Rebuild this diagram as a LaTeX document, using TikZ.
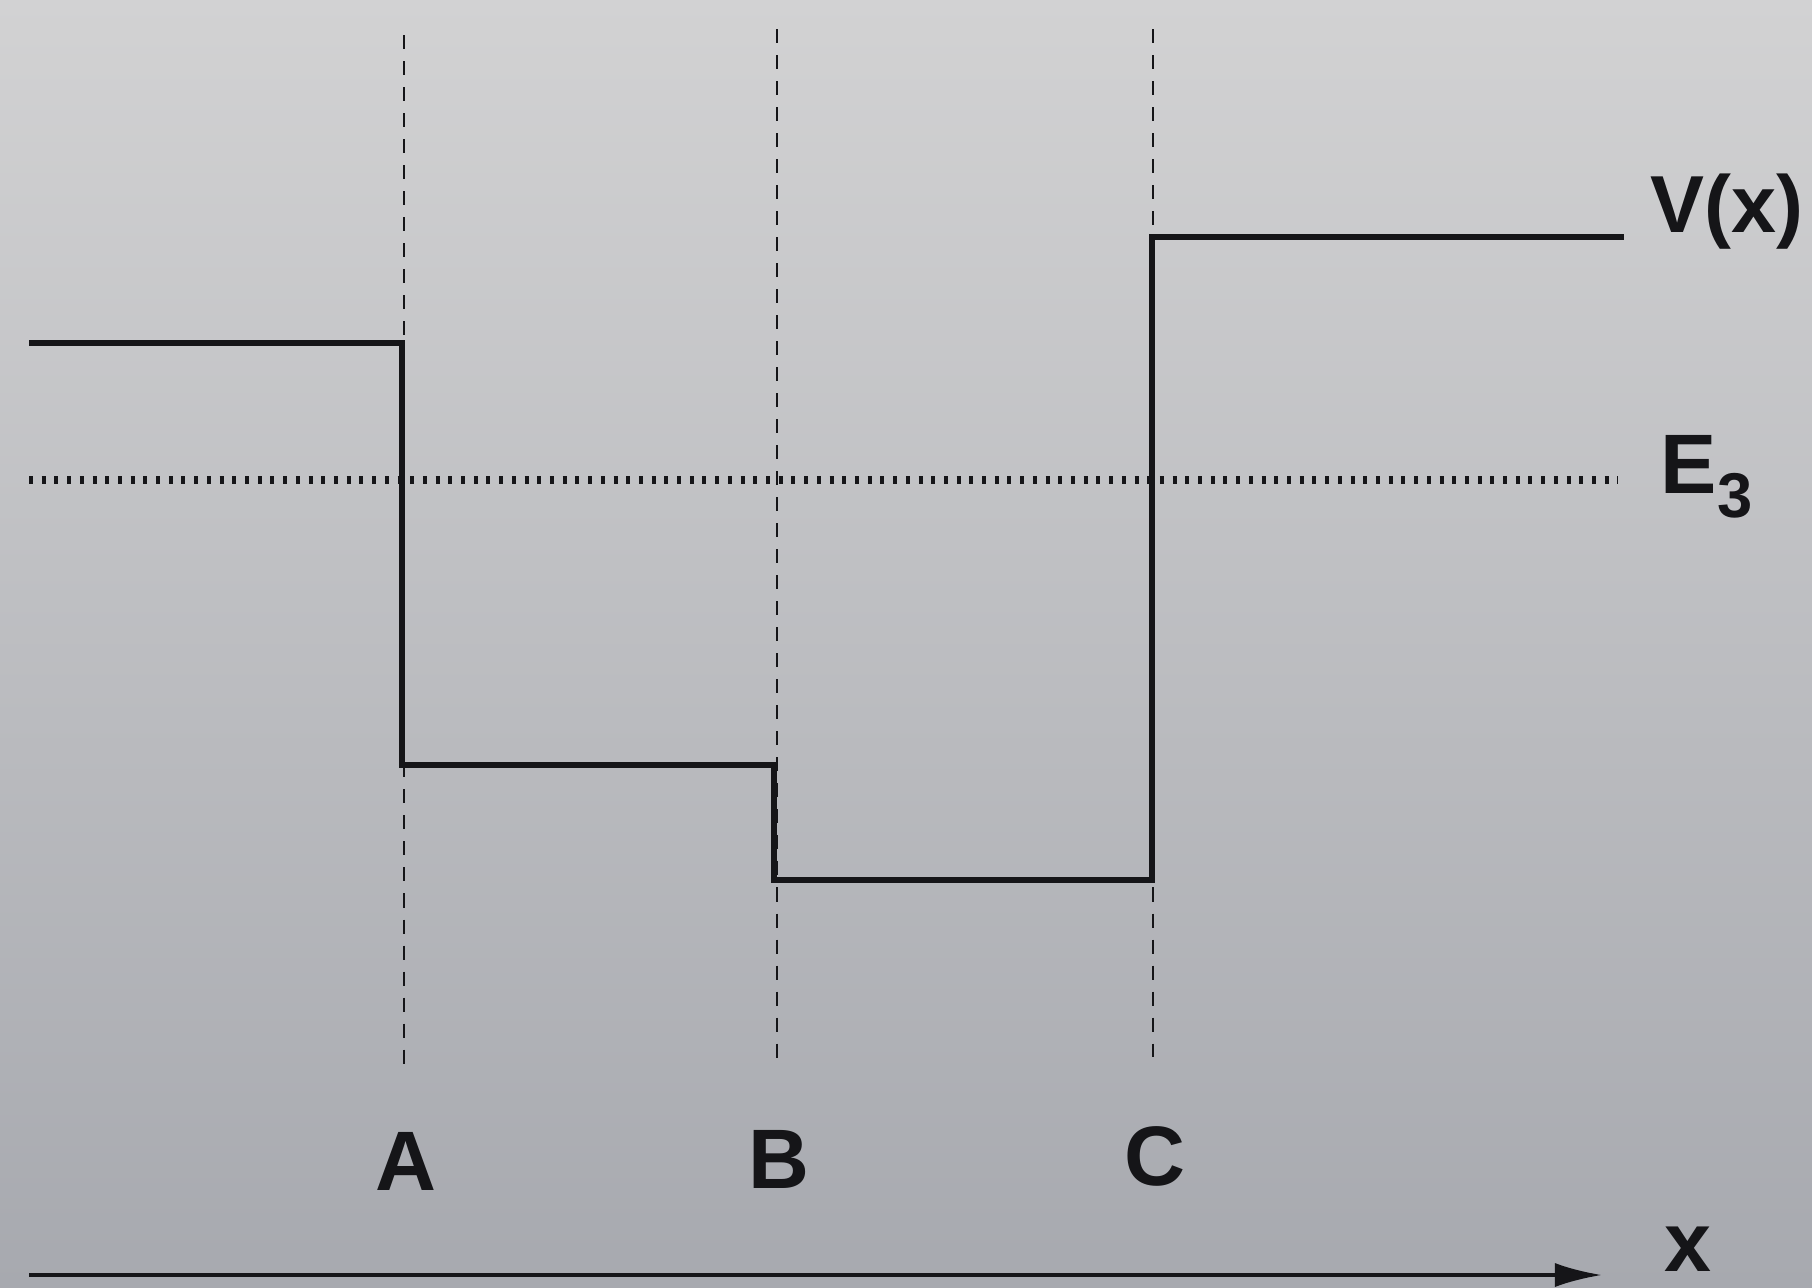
\documentclass[tikz,border=0pt]{standalone}
\usepackage{fontspec}
\setmainfont{Liberation Sans}
\usetikzlibrary{arrows.meta,positioning}
\definecolor{ink}{HTML}{151518}
\definecolor{papertop}{HTML}{D2D2D3}
\definecolor{papermid}{HTML}{BCBDC0}
\definecolor{paperbot}{HTML}{A7A9AF}

\begin{document}
\begin{tikzpicture}[x=0.01cm,y=-0.01cm,font=\fontsize{24}{28}\selectfont\bfseries,>=Latex]
\tikzset{pot/.style={draw=ink,line width=1.5pt,line join=miter}, guide/.style={draw=ink,line width=0.8pt,dash pattern=on 0.14cm off 0.12cm}, lvl/.style={draw=ink,line width=2pt,dash pattern=on 0.04cm off 0.087cm}, axis/.style={draw=ink,line width=1.1pt,-{Latex[length=0.47cm,width=0.24cm]}}, lab/.style={text=ink,inner sep=0pt}}
\useasboundingbox (0,0) rectangle (1812,1287);
\shade[top color=papertop,middle color=papermid,bottom color=paperbot] (0,0) rectangle (1812,1287);
% boundaries A, B, C
\foreach \n/\xx/\yt/\yb/\yl in {A/404/35/1069/1190,B/777/29/1063/1188,C/1153/29/1057/1185}{
  \coordinate (\n top) at (\xx,\yt);
  \coordinate (\n bot) at (\xx,\yb);
  \draw[guide] (\n top)--(\n bot);
  \node[lab,anchor=base] (lab\n) at (\xx+2,\yl) {\n};
}
% energy level
\coordinate (Eleft) at (29,480);
\coordinate (Eright) at (1618,480);
\draw[lvl] (Eleft)--(Eright);
% potential steps
\draw[pot] (29,343) -| (402,765) -| (774,880) -| (1152,237) -- (1624,237);
\node[lab,anchor=base west,font=\fontsize{23}{27}\selectfont\bfseries] (Vx) at (1650,232) {V(x)};
\node[lab,anchor=base west] (E3) at (1660,493) {E\raisebox{-0.24cm}{\fontsize{18}{20}\selectfont 3}};
% x axis
\coordinate (xstart) at (29,1275);
\coordinate (xend) at (1602,1275);
\draw[axis] (xstart)--(xend);
\node[lab,anchor=base] (xlab) at (1688,1271) {x};
\end{tikzpicture}
\end{document}
